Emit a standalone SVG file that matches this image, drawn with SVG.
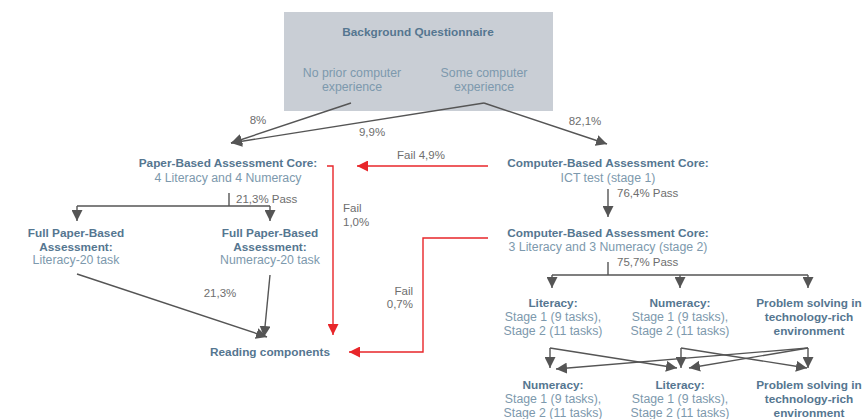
<svg xmlns="http://www.w3.org/2000/svg" width="865" height="419" viewBox="0 0 865 419">
<defs>
<style>
.b{font-family:"Liberation Sans",Arial,sans-serif;font-weight:bold;font-size:11.8px;fill:#557690;text-anchor:middle}
.r{font-family:"Liberation Sans",Arial,sans-serif;font-size:12.3px;fill:#7d99ad;text-anchor:middle}
.g{font-family:"Liberation Sans",Arial,sans-serif;font-size:11.5px;fill:#6e6e6e}
.ln{stroke:#555;stroke-width:1.4;fill:none}
.red{stroke:#e8262a;stroke-width:1.4;fill:none}
</style>
<marker id="ag" viewBox="0 0 10 10" refX="10" refY="5" markerWidth="11" markerHeight="11" markerUnits="userSpaceOnUse" orient="auto"><path d="M0,0 L10,5 L0,10 z" fill="#555"/></marker>
<marker id="ar" viewBox="0 0 10 10" refX="10" refY="5" markerWidth="11" markerHeight="11" markerUnits="userSpaceOnUse" orient="auto"><path d="M0,0 L10,5 L0,10 z" fill="#e8262a"/></marker>
</defs>

<g id="bq">
<rect x="284" y="12" width="269" height="99" fill="#c9ced5"/>
<text class="b" x="418" y="36">Background Questionnaire</text>
<text class="r" x="352" y="77">No prior computer</text>
<text class="r" x="352" y="91">experience</text>
<text class="r" x="484" y="77">Some computer</text>
<text class="r" x="484" y="91">experience</text>
</g>

<g id="pbaCore">
<text class="b" x="228" y="167">Paper-Based Assessment Core:</text>
<text class="r" x="228" y="182">4 Literacy and 4 Numeracy</text>
</g>
<g id="cbaCore1">
<text class="b" x="608" y="167">Computer-Based Assessment Core:</text>
<text class="r" x="608" y="182">ICT test (stage 1)</text>
</g>
<g id="cbaCore2">
<text class="b" x="608" y="237">Computer-Based Assessment Core:</text>
<text class="r" x="608" y="251">3 Literacy and 3 Numeracy (stage 2)</text>
</g>
<g id="fullLit">
<text class="b" x="76" y="237">Full Paper-Based</text>
<text class="b" x="76" y="251">Assessment:</text>
<text class="r" x="76" y="264">Literacy-20 task</text>
</g>
<g id="fullNum">
<text class="b" x="270" y="237">Full Paper-Based</text>
<text class="b" x="270" y="251">Assessment:</text>
<text class="r" x="270" y="264">Numeracy-20 task</text>
</g>
<g id="reading">
<text class="b" x="270" y="356">Reading components</text>
</g>
<g id="lit1">
<text class="b" x="553" y="307">Literacy:</text>
<text class="r" x="553" y="321">Stage 1 (9 tasks),</text>
<text class="r" x="553" y="335">Stage 2 (11 tasks)</text>
</g>
<g id="num1">
<text class="b" x="680" y="307">Numeracy:</text>
<text class="r" x="680" y="321">Stage 1 (9 tasks),</text>
<text class="r" x="680" y="335">Stage 2 (11 tasks)</text>
</g>
<g id="ps1">
<text class="b" x="809" y="307">Problem solving in</text>
<text class="b" x="809" y="321">technology-rich</text>
<text class="b" x="809" y="335">environment</text>
</g>
<g id="num2">
<text class="b" x="553" y="389">Numeracy:</text>
<text class="r" x="553" y="403">Stage 1 (9 tasks),</text>
<text class="r" x="553" y="417">Stage 2 (11 tasks)</text>
</g>
<g id="lit2">
<text class="b" x="680" y="389">Literacy:</text>
<text class="r" x="680" y="403">Stage 1 (9 tasks),</text>
<text class="r" x="680" y="417">Stage 2 (11 tasks)</text>
</g>
<g id="ps2">
<text class="b" x="809" y="389">Problem solving in</text>
<text class="b" x="809" y="403">technology-rich</text>
<text class="b" x="809" y="417">environment</text>
</g>

<g id="connectors">
<line class="ln" x1="351" y1="103" x2="231" y2="143" marker-end="url(#ag)"/>
<line class="ln" x1="484" y1="103" x2="231" y2="143" marker-end="url(#ag)"/>
<line class="ln" x1="484" y1="103" x2="607" y2="144" marker-end="url(#ag)"/>
<text class="g" x="258" y="124" text-anchor="middle">8%</text>
<text class="g" x="372" y="136" text-anchor="middle">9,9%</text>
<text class="g" x="585" y="125" text-anchor="middle">82,1%</text>

<line class="ln" x1="229" y1="193" x2="229" y2="206"/>
<path class="ln" d="M77,206 H270"/>
<line class="ln" x1="77" y1="206" x2="77" y2="221" marker-end="url(#ag)"/>
<line class="ln" x1="270" y1="206" x2="270" y2="221" marker-end="url(#ag)"/>
<text class="g" x="236" y="203">21,3% Pass</text>

<line class="ln" x1="77" y1="274" x2="267" y2="337" marker-end="url(#ag)"/>
<line class="ln" x1="270" y1="275" x2="264" y2="337" marker-end="url(#ag)"/>
<text class="g" x="220" y="297" text-anchor="middle">21,3%</text>

<line class="ln" x1="608" y1="189" x2="608" y2="217" marker-end="url(#ag)"/>
<text class="g" x="617" y="197">76,4% Pass</text>

<line class="ln" x1="608" y1="262" x2="608" y2="275"/>
<path class="ln" d="M552,275 H808"/>
<line class="ln" x1="552" y1="275" x2="552" y2="288" marker-end="url(#ag)"/>
<line class="ln" x1="680" y1="275" x2="680" y2="288" marker-end="url(#ag)"/>
<line class="ln" x1="808" y1="275" x2="808" y2="288" marker-end="url(#ag)"/>
<text class="g" x="617" y="266">75,7% Pass</text>

<line class="ln" x1="550" y1="348" x2="550" y2="368" marker-end="url(#ag)"/>
<line class="ln" x1="550" y1="348" x2="677" y2="368" marker-end="url(#ag)"/>
<line class="ln" x1="681" y1="348" x2="681" y2="368" marker-end="url(#ag)"/>
<line class="ln" x1="681" y1="348" x2="807" y2="368" marker-end="url(#ag)"/>
<line class="ln" x1="808" y1="348" x2="808" y2="368" marker-end="url(#ag)"/>
<line class="ln" x1="808" y1="348" x2="556" y2="369" marker-end="url(#ag)"/>
<line class="ln" x1="808" y1="348" x2="689" y2="368" marker-end="url(#ag)"/>

<line class="red" x1="488" y1="166" x2="357" y2="166" marker-end="url(#ar)"/>
<text class="g" x="397" y="159">Fail 4,9%</text>
<path class="red" d="M327,166 H333 V335" marker-end="url(#ar)"/>
<text class="g" x="343" y="212">Fail</text>
<text class="g" x="343" y="226">1,0%</text>
<path class="red" d="M488,238 H423 V352 H349" marker-end="url(#ar)"/>
<text class="g" x="413" y="295" text-anchor="end">Fail</text>
<text class="g" x="413" y="308" text-anchor="end">0,7%</text>
</g>
</svg>
